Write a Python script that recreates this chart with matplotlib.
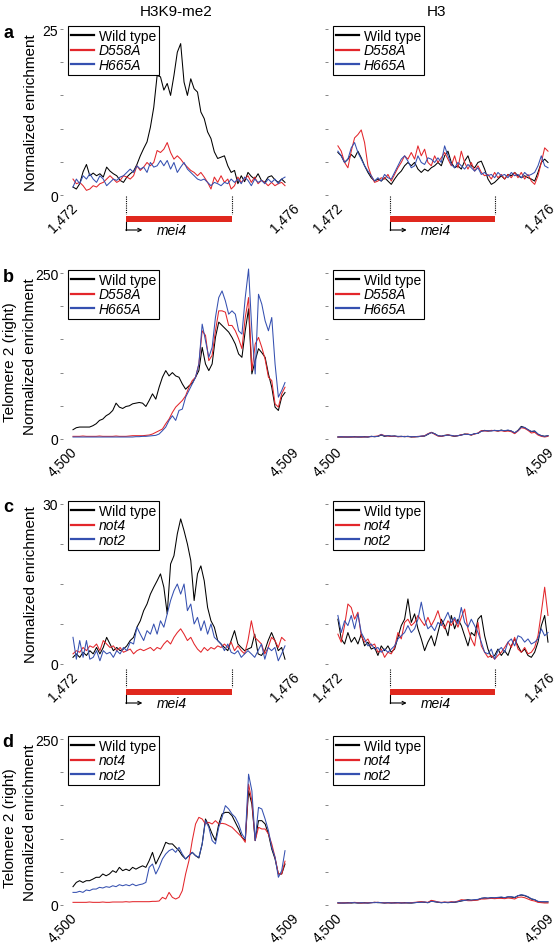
import numpy as np
import matplotlib
matplotlib.use("Agg")
import matplotlib.pyplot as plt
import matplotlib.transforms as mtransforms
from matplotlib.patches import Rectangle

plt.rcParams['font.family'] = ['Liberation Sans', 'DejaVu Sans']

RED = '#e3262b'
BLUE = '#3550b0'
BAR_RED = '#e0281e'

# mei4 locus (kb on chromosome)
mei4_start = 1473.13
mei4_end = 1475.04

mei4_range = (1472, 1476)
tel_range = (4500, 4509)

# ---- a: H3K9-me2 at mei4 (normalized enrichment) ----
a_wt = [1.2, 0.9, 1.7, 3.5, 4.6, 2.9, 3.3, 2.9, 3.2, 2.7, 4.2, 3.6, 3.2, 2.9, 2.2, 1.9,
        2.7, 3.2, 3.6, 4.6, 5.9, 7.0, 8.0, 10.2, 13.2, 18.0, 17.8, 15.8, 16.8, 15.0, 18.0, 21.5,
        22.8, 17.0, 15.0, 17.5, 16.0, 15.5, 12.5, 11.5, 9.5, 8.5, 6.5, 5.5, 5.7, 5.9, 4.4, 3.4,
        3.7, 1.7, 2.9, 2.0, 3.4, 2.8, 2.4, 3.2, 2.2, 1.9, 2.7, 2.9, 2.3, 1.9, 2.4, 1.9]
a_d558a = [2.4, 1.7, 1.9, 1.4, 0.7, 0.9, 1.4, 1.2, 1.7, 1.9, 2.4, 2.9, 2.4, 1.9, 2.2, 2.9,
           2.7, 2.4, 2.9, 4.4, 3.7, 4.2, 4.9, 4.4, 4.9, 6.7, 6.4, 6.9, 7.9, 6.4, 5.4, 5.9,
           5.4, 4.7, 4.2, 3.7, 3.4, 2.9, 3.4, 2.7, 1.9, 0.9, 2.7, 1.9, 2.9, 1.9, 2.4, 0.9,
           1.4, 2.7, 1.9, 2.4, 2.9, 1.9, 2.7, 1.7, 2.2, 1.9, 1.4, 1.9, 1.4, 1.7, 1.9, 1.4]
a_h665a = [1.2, 2.4, 1.7, 2.9, 2.4, 3.2, 2.4, 1.9, 2.9, 2.4, 1.4, 1.9, 2.4, 2.2, 2.7, 2.9,
           3.4, 3.9, 3.4, 4.4, 3.9, 4.2, 3.4, 4.9, 4.2, 4.4, 5.2, 4.4, 5.2, 3.9, 4.9, 3.4,
           4.2, 4.9, 3.9, 3.4, 2.9, 2.4, 2.2, 2.4, 1.9, 1.4, 1.9, 1.7, 1.4, 1.9, 1.7, 2.4,
           1.9, 2.4, 1.7, 2.7, 2.2, 1.4, 2.4, 1.9, 2.2, 1.7, 2.4, 1.9, 2.4, 1.7, 2.4, 2.7]

# ---- a: H3 at mei4 ----
a_h3_wt = [6.4, 5.9, 4.9, 5.4, 6.1, 5.6, 6.6, 5.6, 4.4, 3.4, 2.6, 2.1, 2.4, 2.1, 2.6, 2.1,
           1.6, 2.4, 3.1, 3.6, 4.4, 4.9, 4.4, 4.9, 3.9, 3.4, 3.9, 3.6, 4.1, 4.4, 4.9, 4.4,
           5.9, 6.6, 4.9, 4.1, 4.4, 3.9, 5.1, 5.9, 4.4, 4.1, 4.9, 5.1, 3.9, 2.4, 1.6, 1.9,
           2.4, 2.9, 2.4, 3.1, 2.9, 3.4, 2.9, 2.6, 2.9, 2.6, 2.4, 2.1, 3.4, 4.9, 5.4, 4.9]
a_h3_d558a = [7.4, 6.6, 4.9, 4.1, 6.6, 8.6, 9.1, 9.8, 7.9, 4.4, 2.9, 1.9, 2.1, 2.6, 2.4, 3.1,
              2.1, 3.1, 4.1, 4.9, 5.9, 5.4, 6.4, 5.4, 7.4, 5.9, 6.9, 4.9, 4.4, 5.9, 4.9, 5.6,
              6.4, 5.4, 4.4, 5.9, 4.1, 6.6, 4.9, 3.9, 4.9, 3.6, 4.4, 3.4, 2.9, 3.1, 2.4, 3.4,
              2.6, 3.1, 2.4, 3.1, 2.6, 3.4, 2.6, 3.4, 2.4, 3.1, 2.1, 1.6, 2.9, 4.9, 7.1, 6.6]
a_h3_h665a = [6.6, 5.9, 4.9, 5.4, 7.1, 7.9, 6.4, 5.4, 4.4, 3.6, 2.9, 2.1, 2.6, 2.1, 3.1, 2.6,
              2.4, 3.4, 4.4, 5.4, 5.9, 5.1, 4.1, 4.4, 5.9, 4.9, 4.6, 5.6, 5.4, 4.9, 5.6, 4.9,
              7.4, 5.9, 4.6, 4.1, 4.9, 4.4, 3.9, 4.6, 4.1, 3.6, 4.1, 3.1, 3.4, 2.9, 3.1, 2.6,
              3.4, 2.9, 3.1, 2.6, 3.4, 2.9, 3.1, 2.6, 3.4, 2.9, 3.1, 3.4, 4.4, 5.9, 4.4, 4.1]

# ---- b: H3K9-me2 at telomere 2 (right) ----
b_wt = [14, 17, 18, 18, 18, 18, 20, 23, 28, 30, 35, 38, 43, 54, 48, 46,
        49, 50, 53, 54, 55, 54, 49, 58, 68, 60, 78, 93, 103, 95, 100, 95,
        93, 83, 75, 80, 84, 93, 103, 138, 113, 103, 113, 153, 176, 171, 166, 161,
        153, 143, 128, 123, 163, 196, 98, 118, 136, 130, 123, 98, 78, 48, 43, 63, 70]
b_d558a = [4, 4, 4, 4.5, 4, 4, 4, 4, 4.5, 4, 4, 4, 4, 4.5, 4, 4,
           4, 4.5, 5, 5, 5, 5, 5.5, 6, 7.5, 10, 12.5, 15, 23, 30, 40, 48,
           53, 58, 65, 78, 88, 93, 113, 163, 156, 118, 126, 163, 193, 193, 191, 171,
           171, 163, 151, 136, 183, 213, 103, 143, 153, 138, 120, 93, 88, 53, 48, 68, 78]
b_h665a = [3, 3, 3, 3, 3, 3, 3, 3, 3, 3, 3, 3, 3, 3, 3, 3,
           3, 3, 3, 3.5, 3.5, 4, 4, 4.5, 5, 5.5, 7.5, 12.5, 18, 28, 35, 28,
           43, 45, 63, 73, 83, 93, 113, 173, 148, 123, 138, 183, 213, 223, 208, 188,
           193, 188, 163, 158, 213, 256, 163, 98, 218, 203, 178, 163, 183, 113, 63, 73, 85]

# ---- b: H3 at telomere 2 (right) ----
b_h3_wt = [3, 3, 3, 3, 3, 3.5, 3, 3, 3.5, 3, 4, 3.5, 4, 6, 4, 5,
           4, 4.5, 3.5, 4, 3.5, 4, 3, 3.5, 3.5, 4, 4.5, 7, 10, 8, 5, 4,
           5.5, 6, 5, 4, 5, 6, 7.5, 7, 6, 8, 8.5, 12, 13, 12, 12.5, 13,
           12, 13.5, 12, 13, 12, 9, 13, 19, 17, 14, 11, 12, 7, 5, 4, 5]
b_h3_d558a = [3, 3, 3.5, 3, 3, 3, 3.5, 3, 3, 3.5, 3.5, 4, 4.5, 7, 5, 4.5,
              4, 4, 3.5, 3.5, 4, 3.5, 3.5, 3, 4, 4, 5, 8, 10, 7, 4.5, 4,
              5, 6.5, 5, 4.5, 5, 6.5, 7, 7.5, 6, 7.5, 9, 12.5, 12, 12, 13, 12.5,
              12, 12.5, 11.5, 12, 11, 8, 12, 17, 16, 13, 9, 10, 6, 4, 3, 4]
b_h3_h665a = [3, 3.5, 3, 3, 3.5, 3, 3, 3.5, 3, 3, 4, 3.5, 4, 6.5, 4.5, 5,
              4.5, 4.5, 4, 4, 3.5, 4, 3.5, 3.5, 3.5, 4.5, 4.5, 7.5, 9.5, 8, 5, 4.5,
              5, 6, 5.5, 4.5, 5, 6, 7, 7, 6.5, 8, 8.5, 11.5, 12.5, 12.5, 12, 13,
              12.5, 13, 12.5, 13.5, 12, 9.5, 12.5, 18, 17.5, 14, 11.5, 12, 7.5, 5, 4, 5]

# ---- c: H3K9-me2 at mei4, not4 / not2 ----
c_wt = [1.25, 1.9, 1.25, 2.2, 1.6, 2.5, 1.9, 3.1, 1.9, 3.1, 5.0, 3.75, 2.5, 3.1, 2.5, 2.8,
        3.4, 4.4, 5.0, 6.9, 8.1, 10.0, 11.25, 13.1, 14.4, 15.6, 16.9, 14.4, 9.4, 18.75, 20.3, 24.4,
        27.2, 25.0, 22.5, 19.4, 11.9, 16.9, 18.4, 15.6, 10.6, 8.1, 6.9, 4.4, 3.75, 3.1, 2.5, 4.4,
        6.25, 3.75, 3.1, 2.5, 2.8, 3.1, 5.6, 1.9, 1.6, 2.5, 4.4, 5.9, 4.4, 2.5, 3.1, 0.9]
c_not4 = [1.9, 2.5, 2.2, 3.1, 2.5, 3.4, 3.1, 3.75, 2.5, 4.4, 3.75, 3.1, 3.4, 2.5, 3.1, 2.2,
          2.5, 2.8, 1.9, 2.5, 2.8, 2.5, 2.8, 3.1, 2.5, 3.1, 2.8, 3.75, 4.4, 3.75, 5.0, 5.9,
          6.6, 5.6, 4.4, 5.0, 3.75, 2.8, 2.2, 3.1, 2.5, 3.1, 2.8, 3.4, 3.1, 3.75, 3.1, 4.1,
          2.5, 3.4, 2.5, 1.9, 4.4, 8.1, 5.0, 4.4, 3.75, 1.9, 3.1, 5.0, 4.4, 3.1, 5.0, 4.4]
c_not2 = [5.0, 0.9, 4.4, 1.25, 4.4, 0.9, 1.25, 2.5, 0.6, 2.5, 1.9, 2.2, 1.25, 2.5, 1.9, 3.1,
          2.5, 4.1, 3.75, 6.9, 5.6, 4.4, 6.25, 5.6, 7.5, 5.6, 8.1, 6.9, 9.4, 11.9, 13.75, 15.0,
          13.1, 15.0, 10.0, 11.25, 7.5, 8.75, 6.25, 8.1, 5.6, 7.5, 5.0, 4.4, 3.75, 2.5, 3.75, 2.2,
          1.9, 2.5, 1.25, 1.9, 2.5, 1.9, 1.25, 2.5, 3.75, 0.9, 3.1, 2.5, 3.1, 0.6, 1.9, 3.4]

# ---- c: H3 at mei4, not4 / not2 ----
c_h3_wt = [8.4, 4.7, 3.75, 5.9, 4.1, 5.0, 3.75, 5.6, 3.4, 4.1, 2.8, 3.1, 1.6, 3.4, 2.5, 3.4,
           2.2, 2.8, 5.0, 7.2, 8.4, 12.2, 7.8, 9.4, 6.6, 4.7, 2.5, 4.1, 5.3, 3.4, 5.9, 8.4,
           7.2, 5.3, 9.1, 6.6, 8.4, 7.2, 5.3, 3.4, 5.9, 5.3, 8.4, 9.1, 5.3, 2.8, 1.25, 1.6,
           2.8, 1.6, 2.5, 1.6, 3.4, 4.7, 3.4, 2.2, 2.8, 1.6, 1.25, 2.2, 4.1, 7.2, 9.1, 4.1]
c_h3_not4 = [5.6, 4.1, 7.2, 11.25, 10.6, 8.4, 9.7, 5.3, 4.1, 4.7, 3.4, 3.75, 2.2, 2.8, 1.25, 2.2,
             1.9, 3.1, 5.9, 4.7, 7.8, 8.4, 7.2, 7.8, 9.1, 8.1, 7.2, 8.75, 7.2, 8.4, 10.0, 7.8,
             6.6, 8.1, 7.2, 8.4, 6.9, 8.75, 10.3, 6.6, 4.7, 3.4, 7.8, 3.4, 2.2, 1.25, 1.6, 0.9,
             1.6, 2.2, 3.1, 4.1, 3.1, 5.0, 2.8, 2.2, 3.1, 1.9, 2.2, 3.1, 5.3, 9.7, 14.4, 9.1]
c_h3_not2 = [9.1, 5.9, 8.1, 7.2, 9.1, 6.6, 9.4, 5.9, 4.7, 3.4, 3.75, 2.8, 3.1, 2.2, 2.8, 2.2,
             2.8, 3.4, 4.7, 5.3, 5.9, 7.2, 5.9, 6.6, 8.4, 11.6, 8.4, 6.6, 7.2, 6.25, 7.8, 7.2,
             8.4, 9.7, 7.8, 8.75, 7.5, 10.6, 7.8, 6.9, 8.4, 7.2, 5.9, 4.1, 2.2, 1.9, 2.8, 0.9,
             2.5, 3.1, 2.2, 4.1, 4.7, 3.4, 5.3, 5.0, 4.1, 4.7, 3.75, 4.1, 4.7, 6.6, 5.3, 5.9]

# ---- d: H3K9-me2 at telomere 2 (right), not4 / not2 ----
d_wt = [27.6, 34, 36.6, 34, 36.6, 36.6, 39, 41.7, 41.7, 46.7, 44, 46.7, 51.7, 49, 56.7, 51.7,
        54, 51.7, 56.7, 54, 56.7, 59, 56.7, 66.8, 79.3, 61.7, 71.8, 81.8, 94.4, 92, 92, 86.8,
        81.8, 74.3, 69.3, 74.3, 79.3, 74.3, 70.8, 92, 129.5, 119.5, 107, 97, 122, 137, 139.5, 139.5,
        134.5, 124.5, 114.5, 102, 97, 172, 152, 97, 127, 127, 122, 107, 84.3, 69.3, 46.7, 46.7, 61.7]
d_not4 = [4, 4, 4, 4, 4, 4.5, 4, 4, 4, 4.5, 4, 4, 4.5, 4.5, 4.5, 4.5,
          5, 4.5, 5, 5, 5, 5, 5, 5, 5.5, 5.5, 6, 11.5, 9, 19, 11.5, 9,
          11.5, 21.6, 46.7, 66.8, 97, 122, 132, 129.5, 122, 124.5, 122, 127, 122, 123, 122, 119.5,
          117, 112, 107, 102, 94.4, 182, 157, 97, 117, 114.5, 114.5, 107, 92, 71.8, 46.7, 46.7, 66]
d_not2 = [19, 19, 20.6, 19, 22.6, 21.6, 24, 24, 26.6, 25.6, 27.6, 26.6, 29, 27.6, 30.6, 29,
          30.6, 29, 31.6, 29, 30.6, 31.6, 34, 56.7, 61.7, 46.7, 56.7, 69.3, 76.8, 81.8, 84.3, 79.3,
          86.8, 76.8, 69.3, 74.3, 79.3, 74.3, 71.8, 92, 127, 117, 97, 92, 117, 132, 149.6, 144.6,
          137, 132, 122, 107, 99.4, 197, 172, 97, 147, 144.6, 129.5, 112, 86.8, 71.8, 41.7, 51.7, 81.8]

# ---- d: H3 at telomere 2 (right), not4 / not2 ----
d_h3_wt = [3, 3, 3, 3.5, 3, 3.5, 3, 3, 3.5, 3, 3.5, 4, 3.5, 3.5, 3, 3.5,
           3, 3.5, 3.5, 3, 3.5, 3, 3, 3.5, 4, 4.5, 4, 3.5, 6, 5, 4, 3.5,
           4, 3.5, 4, 4, 5, 6, 7, 8, 7, 7.5, 8, 10, 10.5, 10, 11, 10.5,
           11, 11.5, 11, 12, 12, 11, 14, 15, 14, 12, 9, 8, 5, 4.5, 4.5, 4.5]
d_h3_not4 = [3, 3, 3.5, 3, 3.5, 4, 3.5, 3, 3, 3.5, 3.5, 4, 4, 3.5, 3.5, 3,
             3.5, 3, 3, 3.5, 3, 3.5, 3.5, 4, 4.5, 5, 4.5, 4, 7, 6, 4.5, 4,
             4.5, 4, 5, 4.5, 6, 8, 7.5, 6.5, 6.5, 7, 7.5, 9, 9, 9.5, 10, 9.5,
             10, 10, 9.5, 10.5, 10, 9, 11.5, 12, 11, 9, 7, 6, 4, 3.5, 3, 3]
d_h3_not2 = [3.5, 3, 3, 3, 3.5, 3.5, 3, 3.5, 3, 3, 3.5, 3.5, 4, 3.5, 3, 3.5,
             3, 3, 3.5, 3, 3, 3.5, 3, 3.5, 4, 4, 4.5, 3.5, 5.5, 5, 4.5, 3.5,
             4, 4, 4, 4.5, 5, 6.5, 7, 7.5, 7.5, 8, 8.5, 10, 11, 10.5, 11, 11,
             11.5, 12, 11, 12.5, 12.5, 11.5, 14, 15.5, 14.5, 12.5, 9.5, 8, 5.5, 5, 5, 5]

mut_a = ['Wild type', 'D558A', 'H665A']
mut_b = ['Wild type', 'not4', 'not2']

W, H = 560, 945
fig = plt.figure(figsize=(W / 100, H / 100), dpi=100)

# pixel boxes (top, bottom) of each row and (left, right) of each column
rows = [(30, 196), (274, 440), (505, 665), (740, 906)]
cols = [(63, 285), (328, 548)]


def add_ax(col, row):
    (l, r), (t, b) = cols[col], rows[row]
    return fig.add_axes([l / W, 1 - b / H, (r - l) / W, (b - t) / H])


def draw_panel(ax, xr, series, labels, ymax, ystep, show_ylab, legend_pos, end_shift):
    # data starts a little right of the axis start
    x0 = xr[0] + 0.045 * (xr[1] - xr[0])
    handles = []
    for vals, col in zip(series, ['black', RED, BLUE]):
        x = np.linspace(x0, xr[1], len(vals))
        h, = ax.plot(x, vals, color=col, lw=0.75, clip_on=False)
        handles.append(h)
    ax.set_xlim(xr)
    ax.set_ylim(0, ymax)
    for s in ax.spines.values():
        s.set_visible(False)
    yt = np.arange(0, ymax + ystep / 2, ystep)
    ax.set_yticks(yt)
    if show_ylab:
        ax.set_yticklabels([f'{v:g}' if v in (0, ymax) else '' for v in yt])
    else:
        ax.set_yticklabels([])
    ax.tick_params(axis='y', length=2.5, width=0.6, color='0.45', pad=1, labelsize=10)
    ax.set_xticks(xr)
    ax.set_xticklabels([f'{xr[0]:,}', f'{xr[1]:,}'], rotation=45, ha='center', va='top')
    ax.tick_params(axis='x', length=0, pad=4, labelsize=10)
    if end_shift:
        lab = ax.get_xticklabels()[1]
        lab.set_transform(lab.get_transform() +
                          mtransforms.ScaledTranslation(end_shift / 100, 0, fig.dpi_scale_trans))

    leg = ax.legend(handles, labels, loc='upper left',
                    bbox_to_anchor=(legend_pos[0] / W, 1 - legend_pos[1] / H),
                    bbox_transform=fig.transFigure, fontsize=10, fancybox=False,
                    edgecolor='black', framealpha=1, borderpad=0.2, labelspacing=0.05,
                    handlelength=1.7, handletextpad=0.3, borderaxespad=0)
    leg.get_frame().set_linewidth(0.8)
    for t in leg.get_texts()[1:]:
        t.set_style('italic')
    for ln in leg.get_lines():
        ln.set_linewidth(1.6)


def draw_gene(ax, extra):
    hpx = ax.get_position().height * H
    trans = mtransforms.blended_transform_factory(ax.transData, ax.transAxes)

    def fy(p):
        return -(p + extra) / hpx

    ax.add_patch(Rectangle((mei4_start, fy(27)), mei4_end - mei4_start, 6 / hpx,
                           transform=trans, color=BAR_RED, clip_on=False, lw=0))
    for xv in (mei4_start, mei4_end):
        ax.plot([xv, xv], [fy(1), fy(19)], transform=trans, color='black', lw=0.8,
                ls=(0, (1, 1)), clip_on=False)
    ax.plot([mei4_start, mei4_start], [fy(27), fy(35)], transform=trans,
            color='black', lw=0.8, clip_on=False)
    ax.annotate('', xy=(mei4_start + 0.3, fy(35)), xytext=(mei4_start, fy(35)),
                xycoords=trans, textcoords=trans,
                arrowprops=dict(arrowstyle='->', lw=0.8, shrinkA=0, shrinkB=0,
                                mutation_scale=6))
    ax.text(mei4_start + 0.83, fy(35), 'mei4', style='italic', fontsize=10,
            ha='center', va='center', transform=trans)


panels = [
    (0, mei4_range, [a_wt, a_d558a, a_h665a], [a_h3_wt, a_h3_d558a, a_h3_h665a], mut_a, 25, 5, True),
    (1, tel_range, [b_wt, b_d558a, b_h665a], [b_h3_wt, b_h3_d558a, b_h3_h665a], mut_a, 250, 50, False),
    (2, mei4_range, [c_wt, c_not4, c_not2], [c_h3_wt, c_h3_not4, c_h3_not2], mut_b, 30, 7.5, True),
    (3, tel_range, [d_wt, d_not4, d_not2], [d_h3_wt, d_h3_not4, d_h3_not2], mut_b, 250, 50, False),
]

for row, xr, left_s, right_s, labels, ymax, ystep, gene in panels:
    top = rows[row][0]
    axl = add_ax(0, row)
    draw_panel(axl, xr, left_s, labels, ymax, ystep, True, (68, top - 3), 0)
    axr = add_ax(1, row)
    draw_panel(axr, xr, right_s, labels, ymax, ystep, False, (333, top - 3), -8)
    if gene:
        extra = 0 if row == 0 else 4
        draw_gene(axl, extra)
        draw_gene(axr, extra)

    mid = 1 - (rows[row][0] + rows[row][1]) / 2 / H
    fig.text(8 / W, 1 - (top + 3) / H, 'abcd'[row], fontsize=13, fontweight='bold',
             ha='center', va='center')
    if gene:
        fig.text(31 / W, mid, 'Normalized enrichment', rotation=90, fontsize=11,
                 ha='center', va='center')
    else:
        fig.text(10 / W, mid - 5 / H, 'Telomere 2 (right)', rotation=90, fontsize=11,
                 ha='center', va='center')
        fig.text(30 / W, mid, 'Normalized enrichment', rotation=90, fontsize=11,
                 ha='center', va='center')

fig.text(176 / W, 1 - 12 / H, 'H3K9-me2', fontsize=11, ha='center', va='center')
fig.text(436 / W, 1 - 12 / H, 'H3', fontsize=11, ha='center', va='center')

fig.savefig('out.png', dpi=100)
